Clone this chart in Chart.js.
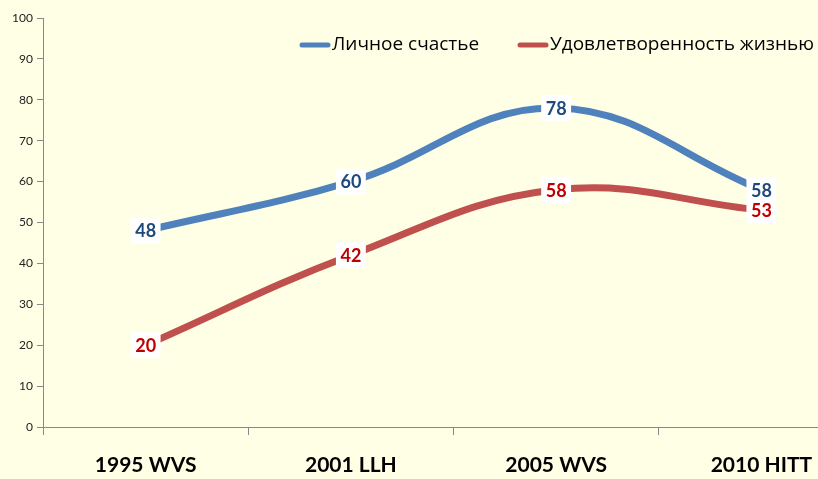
<!DOCTYPE html>
<html>
<head>
<meta charset="utf-8">
<script src="https://cdn.jsdelivr.net/npm/chart.js@4.4.0/dist/chart.umd.min.js"></script>
<style>
    html, body { margin: 0; padding: 0; overflow: hidden; background: #FFFFE6; }
    #wrap { width: 868px; height: 479px; }
</style>
</head>
<body>
<div id="wrap"><canvas id="myChart" width="868" height="479"></canvas></div>
<script>
const categories = ['1995 WVS', '2001 LLH', '2005 WVS', '2010 HITT'];
const happiness = [48, 60, 78, 58];
const satisfaction = [20, 42, 58, 53];
const seriesNames = ['Личное счастье', 'Удовлетворенность жизнью'];
const yTicks = [0, 10, 20, 30, 40, 50, 60, 70, 80, 90, 100];

Chart.defaults.font = {
    family: 'Lato, "Open Sans", sans-serif',
    size: 12,
};
Chart.defaults.color = '#222';

// value labels in white boxes, centred on each point
const valueLabels = {
    id: 'valueLabels',
    afterDatasetsDraw(chart) {
        const ctx = chart.ctx;
        ctx.save();
        ctx.font = 'bold 18px Lato, sans-serif';
        ctx.textAlign = 'center';
        ctx.textBaseline = 'middle';
        chart.data.datasets.forEach((ds, i) => {
            chart.getDatasetMeta(i).data.forEach((pt, j) => {
                const txt = String(ds.data[j]);
                const w = ctx.measureText(txt).width + 9;
                ctx.fillStyle = '#fff';
                ctx.fillRect(pt.x - w / 2, pt.y - 13, w, 26);
                ctx.fillStyle = ds.labelColor;
                ctx.fillText(txt, pt.x, pt.y + 1);
            });
        });
        ctx.restore();
    }
};

// legend drawn over the plot area, top right
const overlayLegend = {
    id: 'overlayLegend',
    afterDraw(chart) {
        const ctx = chart.ctx;
        const items = [{ x: 300, ds: chart.data.datasets[0] }, { x: 518, ds: chart.data.datasets[1] }];
        ctx.save();
        ctx.font = '19px "Open Sans", sans-serif';
        ctx.textBaseline = 'middle';
        items.forEach(it => {
            ctx.strokeStyle = it.ds.borderColor;
            ctx.lineWidth = 5;
            ctx.lineCap = 'round';
            ctx.beginPath();
            ctx.moveTo(it.x + 2, 45);
            ctx.lineTo(it.x + 28, 45);
            ctx.stroke();
            ctx.fillStyle = '#000';
            ctx.fillText(it.ds.label, it.x + 32, 45);
        });
        ctx.restore();
    }
};

const ctx = document.getElementById('myChart');

new Chart(ctx, {
    type: 'line',
    data: {
        labels: categories,
        datasets: [{
            label: seriesNames[0],
            data: happiness,
            borderColor: '#4F81BD',
            labelColor: '#1F497D',
            borderWidth: 7,
            pointRadius: 0,
            tension: 0.4
        }, {
            label: seriesNames[1],
            data: satisfaction,
            borderColor: '#C0504D',
            labelColor: '#C00000',
            borderWidth: 7,
            pointRadius: 0,
            tension: 0.4
        }]
    },
    options: {
        responsive: false,
        animation: false,
        layout: {
            padding: { top: 18, right: 4, left: 0, bottom: 0 }
        },
        plugins: {
            legend: { display: false },
            tooltip: { enabled: false }
        },
        scales: {
            x: {
                offset: true,
                grid: {
                    offset: true,
                    drawOnChartArea: false,
                    tickLength: 8,
                    color: '#888'
                },
                border: { color: '#888' },
                ticks: {
                    color: '#000',
                    padding: 18,
                    maxRotation: 0,
                    font: { size: 21, weight: 'bold' }
                },
                afterFit(scale) { scale.height = 52; }
            },
            y: {
                min: 0,
                max: 100,
                afterBuildTicks(scale) {
                    scale.ticks = yTicks.map(v => ({ value: v }));
                },
                grid: {
                    drawOnChartArea: false,
                    tickLength: 6,
                    color: '#888'
                },
                border: { color: '#888' },
                ticks: {
                    color: '#222',
                    padding: 4,
                    font: { size: 12 }
                },
                afterFit(scale) { scale.width = 43; }
            }
        }
    },
    plugins: [valueLabels, overlayLegend]
});
</script>
</body>
</html>
